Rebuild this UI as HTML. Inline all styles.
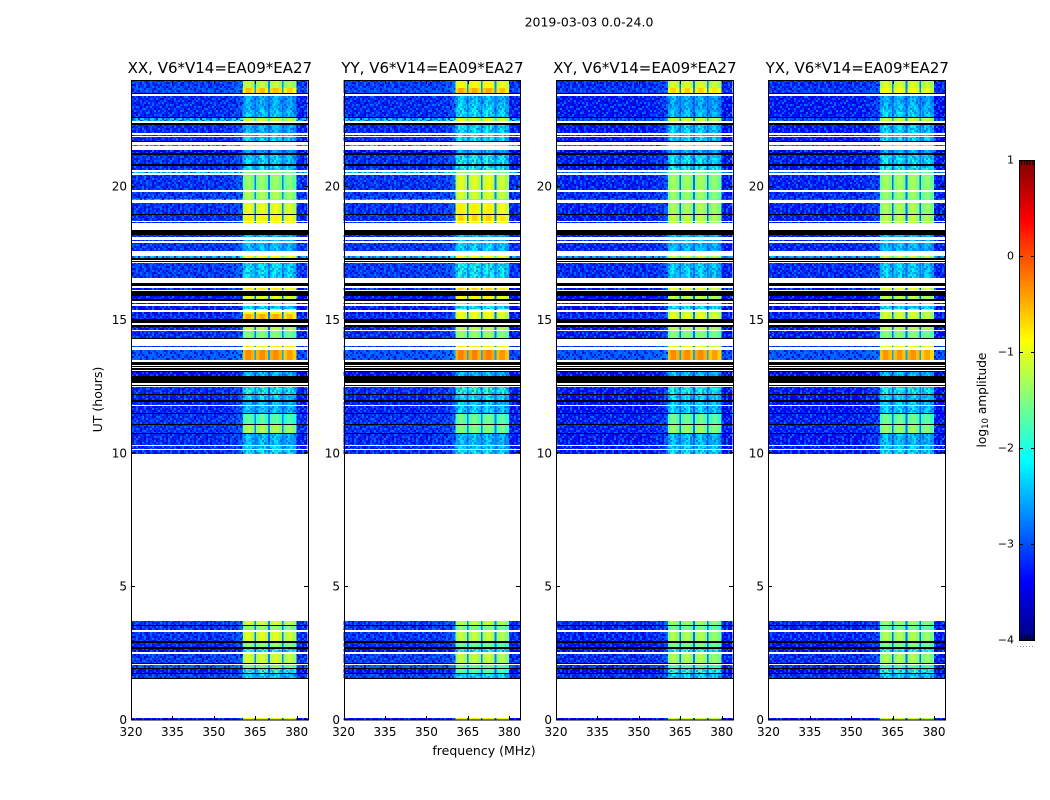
<!DOCTYPE html>
<html lang="en">
<head>
<meta charset="utf-8">
<title>2019-03-03 0.0-24.0</title>
<style>
html,body{margin:0;padding:0;background:#fff;}
svg{display:block;}
text{font-family:"DejaVu Sans","Liberation Sans",sans-serif;fill:#000;}
</style>
</head>
<body>
<svg id="figure" xmlns="http://www.w3.org/2000/svg" width="1050" height="800" viewBox="0 0 1050 800">
<rect x="0" y="0" width="1050" height="800" fill="#fff"/>
<text x="589" y="26.5" font-size="12.5" text-anchor="middle">2019-03-03 0.0-24.0</text>
<text x="102" y="399.5" font-size="12.5" text-anchor="middle" transform="rotate(-90 102 399.5)">UT (hours)</text>
<text x="484" y="755" font-size="12.5" text-anchor="middle">frequency (MHz)</text>
<text x="986" y="400" font-size="12.2" text-anchor="middle" transform="rotate(-90 986 400)">log<tspan font-size="8.5" dy="2">10</tspan><tspan dy="-2"> amplitude</tspan></text>
</svg>
<script>
// ---------- data ----------
const K = -9; // flagged / zero amplitude samples render black
const panelNames = ["XX", "YY", "XY", "YX"];
const xTicks = [320, 335, 350, 365, 380];
const yTicks = [0, 5, 10, 15, 20];
const colorbarTicks = [-4, -3, -2, -1, 0, 1];

// Integration bands in UT hours. Gaps between rows stay white (no data).
const rowTop = [24.00,23.70,23.53,23.41,23.15,23.13,22.87,22.63,22.57,22.39,22.33,21.95,21.85,21.72,21.57,21.37,21.26,21.20,20.84,20.79,20.55,20.43,19.81,19.55,19.39,18.99,18.93,18.66,18.37,18.18,18.01,17.90,17.39,17.34,17.21,17.13,16.39,16.20,16.09,15.89,15.78,15.64,15.54,15.41,15.29,15.24,15.05,14.81,14.72,14.58,14.34,14.01,13.89,13.43,13.29,13.19,13.09,13.04,12.89,12.56,12.49,12.21,12.18,11.99,11.92,11.76,11.53,11.47,11.09,11.05,10.76,10.72,10.26,10.12,3.70,3.58,3.53,3.29,2.95,2.88,2.72,2.68,2.47,2.15,2.06,1.94,1.92,1.77,1.71,1.57,0.09];
const rowBottom = [23.70,23.53,23.50,23.15,23.13,22.87,22.63,22.57,22.46,22.33,22.02,21.90,21.72,21.67,21.51,21.26,21.20,20.84,20.79,20.62,20.50,19.87,19.55,19.49,18.99,18.93,18.72,18.62,18.18,18.12,17.95,17.58,17.34,17.26,17.17,16.59,16.27,16.14,15.89,15.78,15.71,15.59,15.41,15.37,15.24,15.05,14.87,14.72,14.64,14.34,14.27,13.97,13.49,13.33,13.24,13.14,13.04,12.89,12.62,12.54,12.21,12.18,11.99,11.92,11.80,11.53,11.47,11.09,11.05,10.76,10.72,10.30,10.16,9.99,3.58,3.53,3.36,2.95,2.88,2.72,2.68,2.54,2.15,2.11,1.94,1.92,1.77,1.71,1.57,1.53,0.00];
const baseCoPol = [-3.1,-3.0,K,-3.2,K,-3.2,-3.2,K,-2.35,K,-3.2,-3.1,-3.2,K,-2.2,-3.5,K,-3.15,K,-3.2,-2.2,-3.15,-3.1,-2.3,-3.15,K,-3.2,-3.2,K,-3.2,-3.2,-3.15,-2.4,K,K,-3.1,K,-3.3,K,-3.3,K,-3.3,-3.3,-3.6,-3.4,-3.2,K,K,-3.3,-3.2,K,-3.1,-2.95,K,K,K,K,-3.4,K,K,-3.2,K,-3.25,K,-3.25,-3.25,K,-3.15,K,-3.15,K,-3.2,-3.2,-3.2,-3.1,K,-3.15,-3.15,K,-3.2,K,-3.5,-3.1,K,-2.9,K,-3.3,K,-3.05,K,-3.3];
const baseCrossPol = [-3.2,-3.1,K,-3.3,K,-3.3,-3.3,K,-3.0,K,-3.3,-3.2,-3.3,K,-2.7,-3.5,K,-3.25,K,-3.3,-2.7,-3.25,-3.2,-2.9,-3.25,K,-3.3,-3.3,K,-3.3,-3.3,-3.25,-2.5,K,K,-3.2,K,-3.4,K,-3.4,K,-3.4,-3.4,-3.6,-3.4,-3.2,K,K,-3.4,-3.3,K,-3.1,-2.95,K,K,K,K,-3.5,K,K,-3.3,K,-3.35,K,-3.35,-3.35,K,-3.25,K,-3.25,K,-3.3,-3.3,-3.3,-3.2,K,-3.25,-3.25,K,-3.3,K,-3.5,-3.2,K,-3.2,K,-3.4,K,-3.15,K,-3.4];
const bandXX = [-1.2,-0.6,K,-2.4,K,-2.4,-2.25,K,-1.1,K,-2.35,-2.2,-2.2,K,-1.1,-2.5,K,-2.2,K,-2.1,-1.4,-1.4,-1.3,-1.4,-1.0,K,-0.85,-0.9,K,-2.3,-2.3,-2.3,-0.9,K,K,-2.1,K,-0.8,K,-1.0,K,-1.4,-2.1,-0.9,-0.9,-0.5,K,K,-1.2,-1.5,K,-0.8,-0.35,K,K,K,K,-2.3,K,K,-2.0,K,-2.2,K,-2.3,-2.3,K,-1.7,K,-1.3,K,-2.3,-2.2,-2.1,-1.1,K,-1.4,-1.05,K,-1.4,K,-1.9,-1.1,K,-1.5,K,-1.8,K,-2.2,K,-0.9];
const bandYY = [-0.9,-0.5,K,-2.3,K,-2.2,-2.1,K,-1.0,K,-2.1,-2.1,-2.1,K,-1.1,-2.4,K,-2.0,K,-1.9,-1.4,-1.05,-1.1,-1.4,-0.85,K,-0.7,-0.8,K,-2.3,-2.3,-2.2,-0.9,K,K,-2.0,K,-0.7,K,-0.9,K,-1.4,-2.0,-0.9,-0.9,-1.0,K,K,-1.2,-1.4,K,-0.8,-0.3,K,K,K,K,-2.3,K,K,-1.9,K,-2.1,K,-2.2,-2.2,K,-1.6,K,-1.5,K,-2.3,-2.2,-2.1,-1.2,K,-1.5,-1.2,K,-1.6,K,-1.9,-1.2,K,-1.6,K,-1.7,K,-2.1,K,-0.8];
const bandXY = [-1.1,-0.7,K,-2.4,K,-2.4,-2.3,K,-1.1,K,-2.2,-2.2,-2.2,K,-1.2,-2.4,K,-2.1,K,-2.0,-1.5,-1.35,-1.4,-1.5,-1.3,K,-1.2,-1.2,K,-2.3,-2.3,-2.3,-1.2,K,K,-2.2,K,-1.0,K,-1.2,K,-1.4,-2.1,-1.1,-1.1,-1.0,K,K,-1.2,-1.5,K,-0.9,-0.35,K,K,K,K,-2.3,K,K,-2.0,K,-2.2,K,-2.2,-2.2,K,-1.6,K,-1.4,K,-2.3,-2.2,-2.1,-1.4,K,-1.6,-1.3,K,-1.5,K,-1.9,-1.3,K,-1.7,K,-1.8,K,-2.2,K,-1.1];
const bandYX = [-1.1,-0.9,K,-2.4,K,-2.3,-2.2,K,-1.1,K,-2.2,-2.2,-2.2,K,-1.2,-2.4,K,-2.1,K,-2.0,-1.5,-1.35,-1.4,-1.5,-1.3,K,-1.2,-1.2,K,-2.3,-2.3,-2.3,-1.2,K,K,-2.2,K,-1.0,K,-1.2,K,-1.4,-2.1,-1.1,-1.1,-1.1,K,K,-1.2,-1.5,K,-0.9,-0.4,K,K,K,K,-2.3,K,K,-2.0,K,-2.2,K,-2.2,-2.2,K,-1.6,K,-1.4,K,-2.3,-2.2,-2.1,-1.4,K,-1.6,-1.3,K,-1.5,K,-1.9,-1.3,K,-1.7,K,-1.8,K,-2.2,K,-1.1];

// Frequency channels in MHz (edges), with the receiver passband profile.
const freqEdges = [320,321,322,323,324,325,326,327,328,329,330,331,332,333,334,335,336,337,338,339,340,341,342,343,344,345,346,347,348,349,350,351,352,353,354,355,356,357,358,359,360,360.5,361.5,362.5,363.5,364.7,365.3,366.5,367.5,368.5,369.7,370.3,371.5,372.5,373.5,374.7,375.3,376.5,377.5,378.5,379.9,381,382,383,384];
const channelTilt = [0,0.02,0,-0.02,0,0.02,0,0,-0.02,0,0.02,0,0,0.02,-0.02,0,0,0.02,0,0,-0.02,0,0.02,0,0,0,0.02,0,-0.02,0,0.02,0,0.02,0.03,0.03,0.05,0.08,0.1,0.15,0.25,0.4,0,0,0,0,0.4,0,0,0,0,0.4,0,0,0,0,0.4,0,0,0,0,-0.05,-0.05,-0.05,-0.05];
const channelGain = [null,null,null,null,null,null,null,null,null,null,null,null,null,null,null,null,null,null,null,null,null,null,null,null,null,null,null,null,null,null,null,null,null,null,null,null,null,null,null,null,null,-0.2,0.05,0.05,-0.15,null,-0.15,0.05,0.05,-0.2,null,-0.1,0.05,0.05,-0.15,null,-0.25,-0.05,-0.05,-0.3,null,null,null,null];

// Hand-typed speckle tile (digit 0-9): low digits darken, high digits lighten.
const speckleTile = [
"7294813605273816415830627491563","1583062749156302894261750382916","9426175038291647538507194263058",
"3850719426305871960173842915724","6017384291572436027495061738294","2749506173829485183916520470136",
"8391652047013692741628397051849","4162839705184926359037264189625","5903726418962570416740953826370",
"1674095382637059192385016742981","9238501674298134634862709531406","3486270953140628778051693240857",
"7805169324085713229471860352916","2947186035291648035172946083517","3517294608351742869402751369028",
"8694027513690285147382905164739","1473829051647396250916384720583","2509163847205837416283750941682",
"7162837509416826593740186259307","9374018625930741260857391468025","6085739146802593718240576931864",
"1824057693186420593617208459371","5936172084593718402763951820647"
];

// ---------- layout and axis functions ----------
const SVGNS = "http://www.w3.org/2000/svg";
const figure = document.getElementById("figure");
const axesLeft = [131, 343.6, 556, 768.4];
const axesWidth = 176.7, axesTop = 80, axesBottom = 720;
const xMin = 320, xMax = 384, yMin = 0, yMax = 24;
const cMin = -4, cMax = 1, cbLeft = 1019, cbRight = 1035, cbTop = 160, cbBottom = 640;
const bandStartMHz = 360.5, bandEndMHz = 379.9;
function xScale(f, left) { return left + (f - xMin) / (xMax - xMin) * axesWidth; }
function yScale(h) { return axesBottom - (h - yMin) / (yMax - yMin) * (axesBottom - axesTop); }
function cScale(v) { return cbBottom - (v - cMin) / (cMax - cMin) * (cbBottom - cbTop); }
function jetPart(t) { return Math.max(0, Math.min(1, 1.5 - Math.abs(4 * t))); }
function jet(v) {
  if (v <= K) return "#000";
  const t = Math.max(0, Math.min(1, (v - cMin) / (cMax - cMin)));
  const r = Math.round(255 * jetPart(t - 0.75));
  const g = Math.round(255 * jetPart(t - 0.5));
  const b = Math.round(255 * jetPart(t - 0.25));
  return "rgb(" + r + "," + g + "," + b + ")";
}
function svgEl(parent, tag) {
  const el = document.createElementNS(SVGNS, tag);
  parent.appendChild(el);
  return el;
}
function placeRect(el, x, y, w, h, fill) {
  el.setAttribute("x", x.toFixed(2));
  el.setAttribute("y", y.toFixed(2));
  el.setAttribute("width", w.toFixed(2));
  el.setAttribute("height", h.toFixed(2));
  el.setAttribute("fill", fill);
  el.setAttribute("shape-rendering", "crispEdges");
}
function placeLine(el, x1, y1, x2, y2) {
  el.setAttribute("x1", x1);
  el.setAttribute("y1", y1);
  el.setAttribute("x2", x2);
  el.setAttribute("y2", y2);
  el.setAttribute("stroke", "#000");
  el.setAttribute("stroke-width", "1");
  el.setAttribute("shape-rendering", "crispEdges");
}
function placeText(el, x, y, str, size, anchor) {
  el.setAttribute("x", x);
  el.setAttribute("y", y);
  el.setAttribute("font-size", size);
  el.setAttribute("text-anchor", anchor);
  el.textContent = str;
}

// ---------- speckle texture drawn from the tile ----------
const defs = svgEl(figure, "defs");
const pattern = svgEl(defs, "pattern");
pattern.setAttribute("id", "speckle");
pattern.setAttribute("patternUnits", "userSpaceOnUse");
pattern.setAttribute("width", speckleTile[0].length * 2);
pattern.setAttribute("height", speckleTile.length * 2);
speckleTile.forEach(function (line, j) {
  for (let i = 0; i < line.length; i++) {
    const d = Number(line[i]);
    if (d >= 3 && d <= 6) continue;
    const grain = svgEl(pattern, "rect");
    
    
    placeRect(grain, i * 2, j * 2, 2, 2, d < 3 ? "#0000c8" : "#0078ff");
    grain.setAttribute("fill-opacity", d < 3 ? 0.85 - d * 0.2 : 0.45 + (d - 7) * 0.25);
  }
});

const bandSeries = [bandXX, bandYY, bandXY, bandYX];
const baseSeries = [baseCoPol, baseCoPol, baseCrossPol, baseCrossPol];

// ---------- panels ----------
panelNames.forEach(function (name, p) {
  const left = axesLeft[p];
  const frameLeft = Math.round(left);
  const frameRight = Math.round(left + axesWidth);
  const group = svgEl(figure, "g");
  
  

  const cells = svgEl(group, "g");
  
  

  rowTop.forEach(function (top, r) {
    const bottom = rowBottom[r];
    const base = baseSeries[p][r];
    const band = bandSeries[p][r];
    const y0 = Math.round(yScale(top));
    const y1 = Math.max(y0 + 1, Math.round(yScale(bottom)));
    if (base <= K) {
      const flagged = svgEl(cells, "rect");
      
      
      placeRect(flagged, frameLeft, y0, frameRight - frameLeft, y1 - y0, "#000");
      return;
    }
    for (let c = 0; c < freqEdges.length - 1; c++) {
      const x0 = xScale(freqEdges[c], left), x1 = xScale(freqEdges[c + 1], left);
      const gain = channelGain[c];
      const value = gain === null ? base + channelTilt[c] : band + gain;
      const cell = svgEl(cells, "rect");
      
      
      placeRect(cell, x0, y0, x1 - x0, y1 - y0, jet(value));
    }
    const bandL = xScale(bandStartMHz, left), bandR = xScale(bandEndMHz, left);
    const grainLeft = svgEl(cells, "rect");
    
    
    placeRect(grainLeft, left, y0, bandL - left, y1 - y0, "url(#speckle)");
    if (band < -1.7) {
      const grainBand = svgEl(cells, "rect");
      
      
      placeRect(grainBand, bandL, y0, bandR - bandL, y1 - y0, "url(#speckle)");
      grainBand.setAttribute("opacity", "0.5");
    }
    const grainRight = svgEl(cells, "rect");
    
    
    placeRect(grainRight, bandR, y0, left + axesWidth - bandR, y1 - y0, "url(#speckle)");
  });

  const frame = svgEl(group, "rect");
  
  
  frame.setAttribute("x", frameLeft + 0.5);
  frame.setAttribute("y", axesTop + 0.5);
  frame.setAttribute("width", frameRight - frameLeft);
  frame.setAttribute("height", axesBottom - axesTop - 0.5);
  frame.setAttribute("fill", "none");
  frame.setAttribute("stroke", "#000");
  frame.setAttribute("stroke-width", "1");
  frame.setAttribute("shape-rendering", "crispEdges");

  xTicks.forEach(function (f) {
    const x = Math.round(xScale(f, left)) + 0.5;
    const tickBottom = svgEl(group, "line");
    
    
    placeLine(tickBottom, x, axesBottom, x, axesBottom - 4);
    const tickTop = svgEl(group, "line");
    
    
    placeLine(tickTop, x, axesTop, x, axesTop + 4);
    const label = svgEl(group, "text");
    
    
    placeText(label, xScale(f, left), 736, String(f), 12, "middle");
  });

  yTicks.forEach(function (h) {
    const y = Math.round(yScale(h)) - 0.5;
    const tickLeft = svgEl(group, "line");
    
    
    placeLine(tickLeft, frameLeft, y, frameLeft + 4, y);
    const tickRight = svgEl(group, "line");
    
    
    placeLine(tickRight, frameRight, y, frameRight - 4, y);
    const label = svgEl(group, "text");
    
    
    placeText(label, frameLeft - 4, yScale(h) + 4, String(h), 12, "end");
  });

  const title = svgEl(group, "text");
  
  
  placeText(title, left + axesWidth / 2 + 0.5, 73, name + ", V6*V14=EA09*EA27", 15, "middle");
});

// ---------- colorbar ----------
const colorbar = svgEl(figure, "g");


for (let level = cMin; level < cMax; level += 0.02) {
  const swatch = svgEl(colorbar, "rect");
  
  
  placeRect(swatch, cbLeft, cScale(level + 0.02), cbRight - cbLeft, cScale(level) - cScale(level + 0.02) + 0.5, jet(level + 0.01));
}
const cbFrame = svgEl(colorbar, "rect");


cbFrame.setAttribute("x", cbLeft + 0.5);
cbFrame.setAttribute("y", cbTop + 0.5);
cbFrame.setAttribute("width", cbRight - cbLeft - 1);
cbFrame.setAttribute("height", cbBottom - cbTop);
cbFrame.setAttribute("fill", "none");
cbFrame.setAttribute("stroke", "#000");
cbFrame.setAttribute("shape-rendering", "crispEdges");
colorbarTicks.forEach(function (v) {
  const y = Math.round(cScale(v)) + 0.5;
  if (v > cMin && v < cMax) {
    const tickL = svgEl(colorbar, "line");
    
    
    placeLine(tickL, cbLeft, y, cbLeft + 4, y);
    const tickR = svgEl(colorbar, "line");
    
    
    placeLine(tickR, cbRight, y, cbRight - 4, y);
  }
  const label = svgEl(colorbar, "text");
  
  
  placeText(label, 1014, cScale(v) + 3.5, (v < 0 ? "\u2212" : "") + Math.abs(v), 11, "end");
});
[1, 2, 3, 4, 5].forEach(function (n) {
  const x = cbLeft + n * (cbRight - cbLeft) / 5.5 - 0.5;
  const topTick = svgEl(colorbar, "line");
  
  
  placeLine(topTick, x, cbTop, x, cbTop + 5);
  const bottomTick = svgEl(colorbar, "line");
  
  
  placeLine(bottomTick, x, cbBottom, x, cbBottom - 5);
});
const dots = svgEl(colorbar, "line");


dots.setAttribute("x1", cbLeft - 2);
dots.setAttribute("y1", 646.5);
dots.setAttribute("x2", cbRight);
dots.setAttribute("y2", 646.5);
dots.setAttribute("stroke", "#999");
dots.setAttribute("stroke-width", "1");
dots.setAttribute("stroke-dasharray", "1 2");
</script>
</body>
</html>
